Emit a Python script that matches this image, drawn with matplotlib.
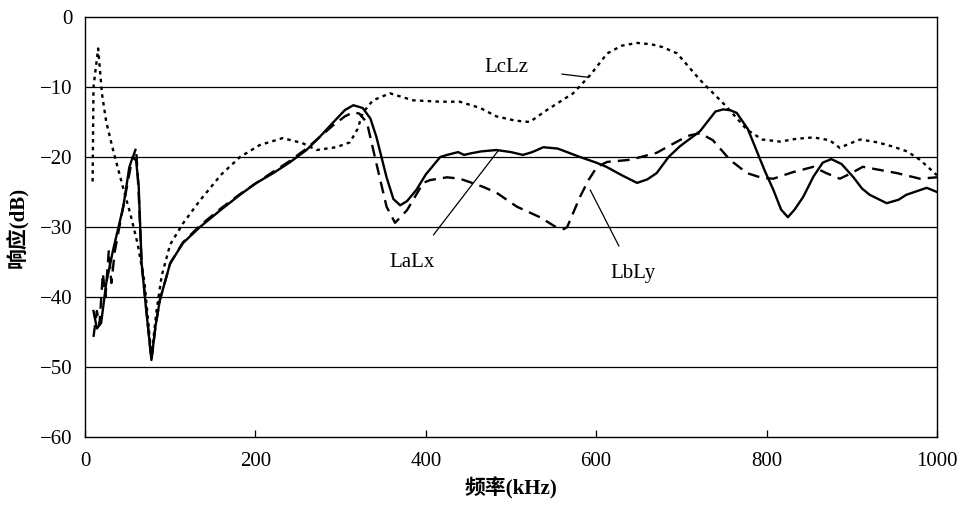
import matplotlib
matplotlib.use('Agg')
import matplotlib.pyplot as plt

# 字体：数字用衬线体，中文回退到思源黑体
plt.rcParams['font.family'] = ['Liberation Serif', 'Noto Sans CJK SC']
plt.rcParams['axes.unicode_minus'] = True

# LaLx 响应曲线 (kHz, dB)
f_ax = [10, 14, 19, 25, 33, 45, 52, 56, 60, 63, 66.5, 72, 78, 83, 88, 100, 115, 135,
        160, 182, 200, 221, 240, 260, 275, 291, 305, 315, 326, 335, 342, 348, 354, 362,
        370, 378, 389, 400, 417, 425, 438, 445, 452, 465, 483, 500, 514, 525, 538, 555,
        581, 600, 612, 630, 648, 660, 671, 685, 698, 722, 740, 749, 757, 765, 778, 788,
        798, 808, 817, 825, 833, 843, 855, 866, 876, 888, 902, 912, 921, 941, 955, 964,
        988, 1000]
db_ax = [-42, -44.5, -43.7, -38, -33.3, -27.1, -21.5, -20, -20.5, -24, -35.2, -42, -49,
         -44, -40.4, -35.2, -32.3, -30, -27.5, -25.4, -23.8, -22.3, -20.8, -19, -17.2,
         -15.1, -13.3, -12.6, -13, -14.5, -17.1, -20, -22.9, -26, -26.9, -26.3, -24.7,
         -22.5, -20, -19.7, -19.3, -19.7, -19.5, -19.2, -19, -19.3, -19.7, -19.3, -18.6,
         -18.8, -20, -20.8, -21.4, -22.6, -23.7, -23.2, -22.3, -20, -18.5, -16.3, -13.5,
         -13.2, -13.3, -13.7, -16, -19, -22, -24.7, -27.5, -28.6, -27.5, -25.7, -22.8,
         -20.8, -20.3, -21, -22.9, -24.5, -25.4, -26.6, -26.1, -25.4, -24.4, -25]

# LbLy 响应曲线
f_by = [10, 14, 17, 21, 24, 28, 31, 35, 45, 55, 60, 63, 66.5, 78, 83, 88, 100, 115, 135,
        160, 182, 200, 221, 240, 260, 291, 305, 315, 322, 331, 342, 354, 364, 378, 397,
        405, 425, 440, 452, 468, 483, 507, 534, 554, 562, 566, 573, 581, 591, 601, 613,
        640, 671, 698, 710, 722, 737, 757, 777, 795, 808, 830, 855, 870, 886, 898, 913,
        953, 980, 1000]
db_by = [-45.7, -42, -44, -36.6, -40, -33.3, -38, -33.5, -27, -20.5, -18.7, -25, -35.2,
         -49, -44, -40.4, -35.2, -32.2, -29.8, -27.3, -25.3, -23.8, -22.1, -20.6, -18.8,
         -15.5, -14.2, -13.6, -13.8, -15.1, -20.9, -27.1, -29.4, -27.6, -23.7, -23.3,
         -22.9, -23.1, -23.6, -24.3, -25.1, -27.1, -28.6, -30.1, -30.3, -30, -28, -25.7,
         -23.3, -21.4, -20.7, -20.4, -19.4, -17.6, -16.9, -16.6, -17.6, -20.4, -22.3, -23,
         -23.1, -22.2, -21.4, -22.3, -23.1, -22.4, -21.4, -22.3, -23.1, -22.9]

# LcLz 响应曲线
f_cz = [9, 10, 15.5, 20, 25, 33, 45, 53, 62, 70, 78, 84, 90, 100, 115, 135, 160, 182,
        205, 232, 255, 272, 295, 311, 320, 326, 338, 358, 385, 417, 440, 464, 483, 505,
        522, 542, 573, 593, 613, 630, 648, 665, 678, 695, 722, 753, 777, 795, 816, 835,
        855, 874, 886, 895, 910, 930, 948, 965, 980, 1000]
db_cz = [-23.5, -10, -4.5, -11, -15, -19, -24.5, -28, -32.5, -38, -48.5, -42, -37, -32.5,
         -29.5, -26.2, -22.5, -20, -18.3, -17.3, -18, -19, -18.6, -17.9, -16, -13.7,
         -11.9, -10.9, -11.9, -12.1, -12.1, -13, -14.2, -14.8, -15, -13.3, -10.9, -8.3,
         -5.2, -4.1, -3.7, -3.9, -4.3, -5.2, -9, -12.8, -16.1, -17.5, -17.8, -17.4,
         -17.2, -17.6, -18.7, -18.2, -17.5, -17.9, -18.5, -19.2, -20.4, -22.6]

x_ticks = [0, 200, 400, 600, 800, 1000]
y_ticks = [0, -10, -20, -30, -40, -50, -60]

fig = plt.figure(figsize=(9.6, 5.05), dpi=100)
ax = fig.add_axes([0.0885, 0.1347, 0.8875, 0.8316])

# 水平网格线
for y in y_ticks[1:-1]:
    ax.axhline(y, color='black', linewidth=0.9, zorder=1)

ax.plot(f_ax, db_ax, color='black', linewidth=1.7, linestyle='-', zorder=3)
ax.plot(f_by, db_by, color='black', linewidth=1.7, linestyle=(0, (5, 3)), zorder=3)
ax.plot(f_cz, db_cz, color='black', linewidth=1.7, linestyle=(0, (1.5, 1.8)), zorder=3)

ax.set_xlim(0, 1000)
ax.set_ylim(-60, 0)
ax.set_xticks(x_ticks)
ax.set_yticks(y_ticks)
ax.tick_params(axis='x', direction='in', length=5, width=0.9, pad=11, labelsize=15)
ax.tick_params(axis='y', length=0, pad=9, labelsize=15)
for sp in ax.spines.values():
    sp.set_linewidth(1.0)

ax.set_xlabel('频率(kHz)', fontsize=15, fontweight='bold', labelpad=4)
ax.set_ylabel('响应(dB)', fontsize=15, fontweight='bold', labelpad=8)

# 曲线标注
ax.annotate('LcLz', xy=(590, -8.6), xytext=(495, -7.2), fontsize=15,
            ha='center', va='center',
            arrowprops=dict(arrowstyle='-', color='black', lw=0.9, shrinkA=22, shrinkB=0))
ax.annotate('LaLx', xy=(485, -19.1), xytext=(384, -35.1), fontsize=15,
            ha='center', va='center',
            arrowprops=dict(arrowstyle='-', color='black', lw=0.9, shrinkA=14, shrinkB=0))
ax.annotate('LbLy', xy=(593, -24.7), xytext=(643, -36.6), fontsize=15,
            ha='center', va='center',
            arrowprops=dict(arrowstyle='-', color='black', lw=0.9, shrinkA=12, shrinkB=0))

fig.savefig('out.png', dpi=100)
